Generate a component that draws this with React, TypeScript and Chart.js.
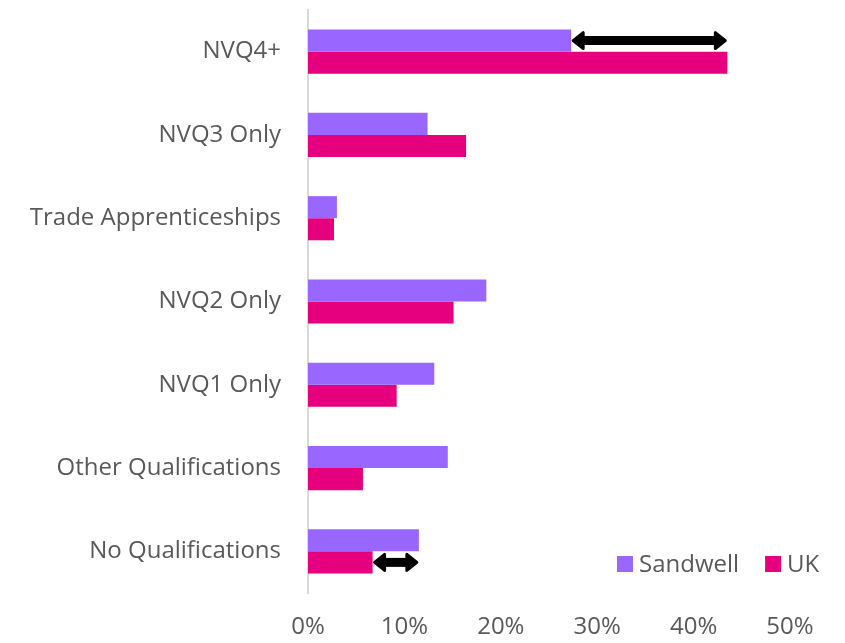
import React, { useEffect, useRef } from "react";
import { Chart, registerables } from "chart.js";

Chart.register(...registerables);

const categories = [
  "NVQ4+",
  "NVQ3 Only",
  "Trade Apprenticeships",
  "NVQ2 Only",
  "NVQ1 Only",
  "Other Qualifications",
  "No Qualifications",
];
const sandwell = [27.3, 12.4, 3.0, 18.5, 13.1, 14.5, 11.5];
const uk = [43.5, 16.4, 2.7, 15.1, 9.2, 5.7, 6.7];
const seriesNames = ["Sandwell", "UK"];
const seriesColors = ["#9966FF", "#E6007E"];
const xTicks = [0, 10, 20, 30, 40, 50];

const FONT = "'Open Sans', sans-serif";
const TEXT = "#595959";

function drawArrow(ctx: CanvasRenderingContext2D, x1: number, x2: number, y: number) {
  const left = Math.min(x1, x2);
  const right = Math.max(x1, x2);
  const head = 12;
  const half = 8;
  ctx.save();
  ctx.fillStyle = "#000";
  ctx.strokeStyle = "#000";
  ctx.lineWidth = 9;
  ctx.lineCap = "butt";
  ctx.beginPath();
  ctx.moveTo(left + head - 2, y);
  ctx.lineTo(right - head + 2, y);
  ctx.stroke();
  ctx.lineJoin = "round";
  ctx.lineWidth = 3;
  ctx.beginPath();
  ctx.moveTo(left + 2, y);
  ctx.lineTo(left + head, y - half);
  ctx.lineTo(left + head, y + half);
  ctx.closePath();
  ctx.fill();
  ctx.stroke();
  ctx.beginPath();
  ctx.moveTo(right - 2, y);
  ctx.lineTo(right - head, y - half);
  ctx.lineTo(right - head, y + half);
  ctx.closePath();
  ctx.fill();
  ctx.stroke();
  ctx.restore();
}

const arrowPlugin = {
  id: "arrows",
  afterDatasetsDraw(chart: any) {
    const ctx = chart.ctx;
    const m0 = chart.getDatasetMeta(0).data;
    const m1 = chart.getDatasetMeta(1).data;
    drawArrow(ctx, m0[0].x, m1[0].x, m0[0].y);
    const last = categories.length - 1;
    drawArrow(ctx, m1[last].x, m0[last].x, m1[last].y);
  },
};

const legendPlugin = {
  id: "customLegend",
  afterDraw(chart: any) {
    const ctx = chart.ctx;
    const area = chart.chartArea;
    const y = area.bottom - 29;
    ctx.save();
    ctx.font = `24px ${FONT}`;
    ctx.textBaseline = "middle";
    ctx.textAlign = "left";
    let x = area.right - 173;
    seriesNames.forEach((name, i) => {
      ctx.fillStyle = seriesColors[i];
      ctx.fillRect(x, y - 8, 16, 16);
      ctx.fillStyle = TEXT;
      ctx.fillText(name, x + 22, y + 1);
      x += 22 + ctx.measureText(name).width + 26;
    });
    ctx.restore();
  },
};

export default function App() {
  const ref = useRef<HTMLCanvasElement>(null);
  useEffect(() => {
    document.body.style.margin = "0";
    const chart = new Chart(ref.current!, {
      type: "bar",
      data: {
        labels: categories,
        datasets: [
          { label: seriesNames[0], data: sandwell, backgroundColor: seriesColors[0] },
          { label: seriesNames[1], data: uk, backgroundColor: seriesColors[1] },
        ],
      },
      options: {
        indexAxis: "y",
        animation: false,
        responsive: false,
        maintainAspectRatio: false,
        datasets: { bar: { barPercentage: 1, categoryPercentage: 0.53 } },
        layout: { padding: { top: 10, right: 55, left: 0, bottom: 0 } },
        plugins: { legend: { display: false }, tooltip: { enabled: false } },
        scales: {
          x: {
            min: 0,
            max: 50,
            afterBuildTicks: (scale: any) => {
              scale.ticks = xTicks.map((v) => ({ value: v }));
            },
            afterFit: (scale: any) => {
              scale.height = 50;
              scale.paddingTop = 0;
              scale.paddingBottom = 0;
            },
            grid: { display: false, drawTicks: false },
            border: { display: false },
            ticks: {
              callback: (v: any) => v + "%",
              color: TEXT,
              font: { family: FONT, size: 24 },
              padding: 20,
              maxRotation: 0,
            },
          },
          y: {
            afterFit: (scale: any) => {
              scale.width = 308;
              scale.paddingTop = 0;
              scale.paddingBottom = 0;
            },
            grid: { display: false, drawTicks: false },
            border: { display: true, color: "#D9D9D9", width: 2 },
            ticks: {
              color: TEXT,
              font: { family: FONT, size: 24 },
              padding: 27,
              autoSkip: false,
            },
          },
        },
      },
      plugins: [arrowPlugin, legendPlugin],
    });
    return () => chart.destroy();
  }, []);
  return (
    <div style={{ width: 845, height: 643 }}>
      <canvas ref={ref} width={845} height={643} style={{ display: "block" }} />
    </div>
  );
}
